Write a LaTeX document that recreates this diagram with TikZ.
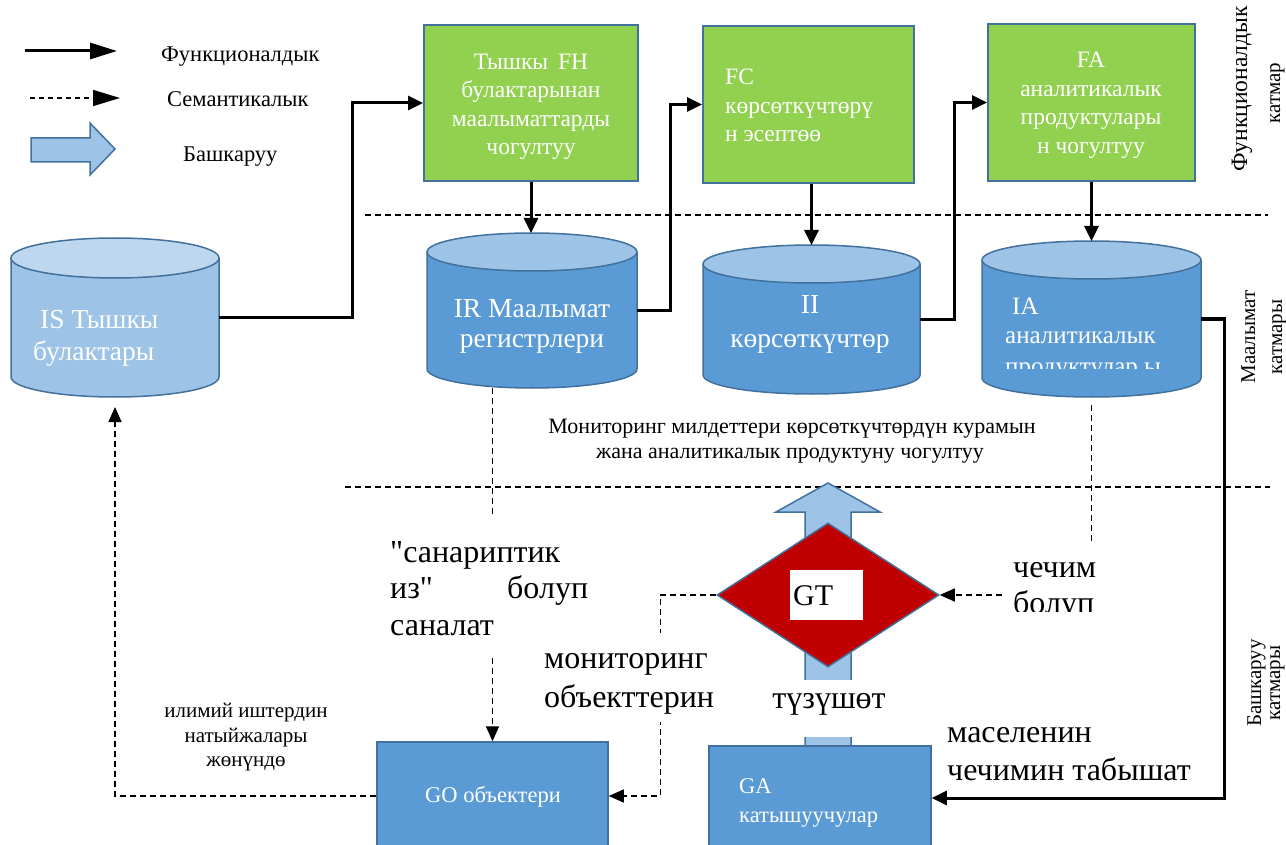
\documentclass[tikz,border=0pt]{standalone}
\usepackage{fontspec}
\setmainfont{Liberation Serif}
% same face without TeX ligatures, so that " stays a straight quote
\newfontfamily\plainquote{Liberation Serif}
\usetikzlibrary{arrows.meta,shapes.geometric,shapes.misc}

\definecolor{boxgreen}{HTML}{92D050}
\definecolor{edgeblue}{HTML}{41719C}
\definecolor{dbblue}{HTML}{5B9BD5}
\definecolor{dblight}{HTML}{9DC3E6}
\definecolor{dbpale}{HTML}{BDD7EE}
\definecolor{gtred}{HTML}{C00000}

\newcommand\fsz[1]{\fontsize{#1}{#1}\selectfont}
\newcommand\sq{{\plainquote"}}

% database cylinder: name, cx, top-centre y, bottom-centre y, rx, ry, body colour, lid colour
\newcommand\dbcyl[8]{%
  \fill[#7] (#2-#5,#3) -- (#2-#5,#4) arc[start angle=180,end angle=0,x radius=#5,y radius=#6] -- (#2+#5,#3) -- cycle;
  \draw[edgeblue,line width=1.5pt] (#2-#5,#3) -- (#2-#5,#4) arc[start angle=180,end angle=0,x radius=#5,y radius=#6] -- (#2+#5,#3);
  \draw[edgeblue,line width=1.5pt,fill=#8] (#2,#3) ellipse[x radius=#5,y radius=#6];
  \node[inner sep=0pt,outer sep=0pt,minimum width={2*#5},minimum height={#4-#3+2*#6}] (#1) at (#2,{(#3+#4)/2}) {};
}

\begin{document}
\begin{tikzpicture}[x=1pt,y=-1pt,
  func/.style={line width=3pt,-{Triangle[length=15pt,width=14pt]}},
  sem/.style={line width=1.5pt,dash pattern=on 6pt off 4pt,-{Triangle[length=15pt,width=13pt]}},
  layer/.style={line width=1.2pt,dash pattern=on 6pt off 4pt},
  gbox/.style={draw=edgeblue,fill=boxgreen,line width=2pt,inner sep=0pt},
  bbox/.style={draw=edgeblue,fill=dbblue,line width=1.5pt,inner sep=0pt},
  blockarrow/.style={draw=edgeblue,fill=dblight,line width=1.5pt,line join=miter},
  tl/.style={inner sep=0pt,anchor=base west},
  tc/.style={inner sep=0pt,anchor=base},
  wtxt/.style={text=white},
  side/.style={inner sep=0pt,anchor=base,rotate=90,font=\fsz{21}}
]
\useasboundingbox (0,0) rectangle (1286,845);

% ---- legend ----
\coordinate (lgfa) at (25,51);  \coordinate (lgfb) at (117,51);
\coordinate (lgsa) at (30,98);  \coordinate (lgsb) at (120,98);
\draw[line width=3pt,-{Triangle[length=27pt,width=16pt]}] (lgfa) -- (lgfb);
\draw[line width=1.5pt,dash pattern=on 5pt off 4pt,-{Triangle[length=27pt,width=16pt]}] (lgsa) -- (lgsb);
\draw[blockarrow] (31,138) -- (90,138) -- (90,123) -- (115,149) -- (90,175) -- (90,162) -- (31,162) -- cycle;
\node[tl,font=\fsz{22.5}] (lgf) at (161,62) {Функционалдык};
\node[tl,font=\fsz{22.5}] (lgs) at (167,107) {Семантикалык};
\node[tl,font=\fsz{22.5}] (lgb) at (183,162) {Башкаруу};

% ---- layer separators ----
\draw[layer] (365,215) -- (1268,215);
\draw[layer] (345,487) -- (1270,487);

% ---- functional layer ----
\node[gbox,minimum width=214pt,minimum height=156pt] (fh) at (531,103) {};
\node[gbox,minimum width=211pt,minimum height=157pt] (fc) at (808.5,104.5) {};
\node[gbox,minimum width=207pt,minimum height=157pt] (fa) at (1091.5,102.5) {};

\begin{scope}[font=\fsz{23.5},wtxt]
\node[tc] (fh1) at (531,70) {Тышкы\, FH};
\node[tc] (fh2) at (531,98) {булактарынан};
\node[tc] (fh3) at (531,127) {маалыматтарды};
\node[tc] (fh4) at (531,155) {чогултуу};
\node[tl] (fc1) at (725,85) {FC};
\node[tl] (fc2) at (725,114) {көрсөткүчтөрү};
\node[tl] (fc3) at (725,142) {н эсептөө};
\node[tc] (fa1) at (1091,68) {FA};
\node[tc] (fa2) at (1091,97) {аналитикалык};
\node[tc] (fa3) at (1091,125) {продуктулары};
\node[tc] (fa4) at (1091,154) {н чогултуу};
\end{scope}

% ---- data layer ----
\dbcyl{is}{115}{258}{377}{104}{20}{dblight}{dbpale}
\dbcyl{ir}{532}{252}{369}{105}{19}{dbblue}{dblight}
\dbcyl{ii}{811.5}{264}{375}{108.5}{19}{dbblue}{dblight}
\dbcyl{ia}{1091.5}{260}{378}{109.5}{19}{dbblue}{dblight}

\begin{scope}[font=\fsz{27.5},wtxt]
\node[tl] (is1) at (40,328) {IS Тышкы};
\node[tl] (is2) at (33,360) {булактары};
\node[tc] (ir1) at (532,317) {IR Маалымат};
\node[tc] (ir2) at (532,348) {регистрлери};
\node[tc] (ii1) at (810,313) {II};
\node[tc] (ii2) at (810,348) {көрсөткүчтөр};
\end{scope}
\begin{scope}[font=\fsz{25},wtxt]
\node[tl] (ia1) at (1012,315) {IA};
\node[tl] (ia2) at (1005,343) {аналитикалык};
\clip (985,240) rectangle (1200,368);
\node[tl] (ia3) at (1005,374) {продуктулар ы};
\end{scope}

\node[tc,font=\fsz{22}] (mid1) at (792,433) {Мониторинг милдеттери көрсөткүчтөрдүн курамын};
\node[tc,font=\fsz{22}] (mid2) at (790,458) {жана аналитикалык продуктуну чогултуу};

% ---- control layer ----
\draw[blockarrow] (805,746) -- (805,512) -- (776,512) -- (828,483) -- (880,512) -- (851,512) -- (851,746) -- cycle;
\node[diamond,draw=edgeblue,fill=gtred,line width=1.5pt,minimum width=222pt,minimum height=144pt,inner sep=0pt] (gt) at (828,595) {};
\node[fill=white,minimum width=73pt,minimum height=50pt,inner sep=0pt] (gtbox) at (826.5,595) {};
\node[tl,font=\fsz{30}] (gtt) at (793,605) {GT};

\node[bbox,minimum width=231pt,minimum height=108pt] (go) at (492.5,796) {};
\node[tc,font=\fsz{22.5},wtxt] (got) at (493,802) {GO объектери};

\node[chamfered rectangle,chamfered rectangle corners=north west,chamfered rectangle xsep=18pt,chamfered rectangle ysep=16pt,bbox,minimum width=222pt,minimum height=104pt] (ga) at (820,798) {};
\node[tl,font=\fsz{22.5},wtxt] (ga1) at (739,793) {GA};
\node[tl,font=\fsz{22.5},wtxt] (ga2) at (739,822) {катышуучулар};

% ---- functional connectors ----
\draw[func] (is.east) -- ++(133,0) |- (fh.west);
\draw[func] (fh.south) -- (fh.south |- ir.north);
\draw[func] (ir.east) -- ++(33,0) |- (fc.west);
\draw[func] (ii.north |- fc.south) -- (ii.north);
\draw[func] (ii.east) -- ++(34,0) |- (fa.west);
\draw[func] (fa.south) -- (fa.south |- ia.north);
\draw[func] (ia.east) -- ++(23,0) |- (ga.east);

% ---- semantic connectors ----
\draw[sem] (go.north |- ir.south) -- (go.north);
\draw[sem,shorten <=8pt] (ia.south) |- (gt.east);
\draw[sem] (gt.west) -- ++(-56,0) |- (go.east);
\draw[sem,shorten >=10pt] (go.west) -| (is.south);

% ---- labels laid over the connectors ----
\fill[white] (385,517) rectangle (600,655);
\fill[white] (538,633) rectangle (725,722);
\fill[white] (760,680) rectangle (900,737);
\fill[white] (1006,545) rectangle (1110,612);

\begin{scope}[font=\fsz{32}]
\node[tl] (dz1) at (390,562) {\sq санариптик};
\node[tl] (dz2) at (390,598) {из\sq};
\node[tl] (dz3) at (507,598) {болуп};
\node[tl] (dz4) at (390,635) {саналат};
\node[tl] (mo1) at (544,668) {мониторинг};
\node[tl] (mo2) at (544,707) {объекттерин};
\node[tc] (tz) at (829,708) {түзүшөт};
\node[tl] (ms1) at (947,742) {маселенин};
\node[tl] (ms2) at (947,780) {чечимин табышат};
\node[tl] (ch1) at (1013,577) {чечим};
\clip (1000,540) rectangle (1120,611);
\node[tl] (ch2) at (1013,613) {болуп};
\end{scope}

\node[tc,font=\fsz{21}] (sc1) at (246,717) {илимий иштердин};
\node[tc,font=\fsz{21}] (sc2) at (246,742) {натыйжалары};
\node[tc,font=\fsz{21}] (sc3) at (246,766) {жөнүндө};

% ---- layer names ----
\node[side,font=\fsz{23.5}] (ly1a) at (1247,89) {Функционалдык};
\node[side] (ly1b) at (1280,93) {катмар};
\node[side] (ly2a) at (1255,337) {Маалымат};
\node[side] (ly2b) at (1282,337) {катмары};
\node[side] (ly3a) at (1261,683) {Башкаруу};
\node[side] (ly3b) at (1280,683) {катмары};
\end{tikzpicture}
\end{document}
